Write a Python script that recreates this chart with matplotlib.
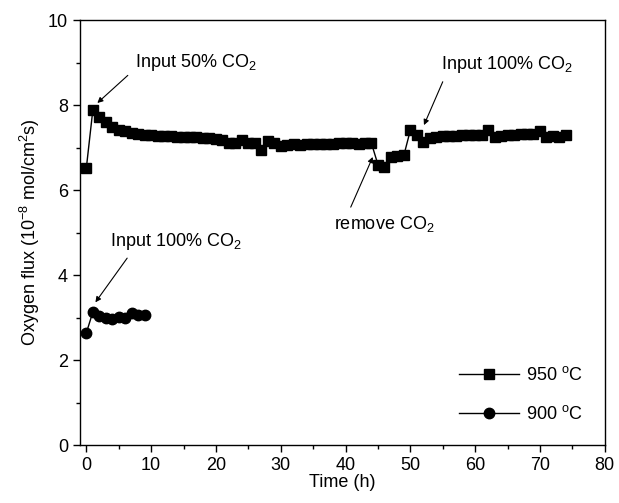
import numpy as np
import matplotlib
matplotlib.use("Agg")
import matplotlib.pyplot as plt
from matplotlib.ticker import MultipleLocator

plt.rcParams['font.family'] = ['Liberation Sans', 'DejaVu Sans']
plt.rcParams['mathtext.fontset'] = 'custom'
plt.rcParams['mathtext.rm'] = 'Liberation Sans'

# 950 C run: time (h), oxygen flux (1e-8 mol/cm2 s)
t_950 = [0, 1, 2, 3, 4, 5, 6, 7, 8, 9, 10, 11, 12, 13, 14, 15, 16, 17, 18,
         19, 20, 21, 22, 23, 24, 25, 26, 27, 28, 29, 30, 31, 32, 33, 34, 35,
         36, 37, 38, 39, 40, 41, 42, 43, 44, 45, 46, 47, 48, 49, 50, 51, 52,
         53, 54, 55, 56, 57, 58, 59, 60, 61, 62, 63, 64, 65, 66, 67, 68, 69,
         70, 71, 72, 73, 74]
f_950 = [6.52, 7.88, 7.72, 7.6, 7.48, 7.42, 7.38, 7.34, 7.32, 7.3, 7.29,
         7.28, 7.28, 7.27, 7.26, 7.25, 7.25, 7.24, 7.23, 7.22, 7.2, 7.18,
         7.1, 7.12, 7.18, 7.12, 7.1, 6.95, 7.15, 7.1, 7.05, 7.06, 7.08,
         7.07, 7.08, 7.08, 7.08, 7.09, 7.09, 7.1, 7.1, 7.1, 7.09, 7.1,
         7.1, 6.6, 6.55, 6.78, 6.8, 6.82, 7.41, 7.29, 7.13, 7.22, 7.25,
         7.27, 7.28, 7.28, 7.29, 7.29, 7.3, 7.3, 7.42, 7.24, 7.28, 7.3,
         7.3, 7.31, 7.32, 7.33, 7.4, 7.26, 7.27, 7.26, 7.3]

# 900 C run
t_900 = [0, 1, 2, 3, 4, 5, 6, 7, 8, 9]
f_900 = [2.64, 3.13, 3.03, 2.99, 2.96, 3.01, 2.99, 3.1, 3.06, 3.06]

fig = plt.figure(figsize=(6.19, 5.03), dpi=100)
ax = fig.add_axes([0.129, 0.115, 0.848, 0.845])

ax.plot(t_950, f_950, 'k-', marker='s', markersize=7, lw=1, label='950 $^\\mathrm{o}$C')
ax.plot(t_900, f_900, 'k-', marker='o', markersize=7.5, lw=1, label='900 $^\\mathrm{o}$C')

ax.set_xlim(-1, 80)
ax.set_ylim(0, 10)
ax.xaxis.set_major_locator(MultipleLocator(10))
ax.xaxis.set_minor_locator(MultipleLocator(5))
ax.yaxis.set_major_locator(MultipleLocator(2))
ax.yaxis.set_minor_locator(MultipleLocator(1))
ax.tick_params(which='both', direction='out', top=False, right=False,
               labelsize=13, width=1)
ax.tick_params(which='major', length=5)
ax.tick_params(which='minor', length=3)
for s in ax.spines.values():
    s.set_linewidth(1)

ax.set_xlabel('Time (h)', fontsize=13, labelpad=0)
ax.set_ylabel('Oxygen flux (10$^{-8}$ mol/cm$^{2}$s)', fontsize=13, labelpad=4)

# labels and arrows (tail -> tip)
notes = [('Input 50% CO$_2$', (7.5, 9.0), (6.4, 8.7), (1.7, 8.05)),
         ('Input 100% CO$_2$', (54.8, 8.95), (55.0, 8.55), (52.1, 7.53)),
         ('remove CO$_2$', (38.2, 5.2), (40.8, 5.6), (44.2, 6.78)),
         ('Input 100% CO$_2$', (3.7, 4.8), (6.3, 4.4), (1.4, 3.36))]
arrow = dict(arrowstyle='-|>', color='k', lw=0.8, mutation_scale=8,
             shrinkA=0, shrinkB=0)
for txt, pos, tail, tip in notes:
    ax.text(pos[0], pos[1], txt, fontsize=13, va='center')
    ax.annotate('', xy=tip, xytext=tail, arrowprops=arrow)

ax.legend(loc='lower right', frameon=False, fontsize=13, handlelength=3.3,
          borderaxespad=0.8, labelspacing=1.2, handletextpad=0.4)

fig.savefig('out.png', dpi=100)
